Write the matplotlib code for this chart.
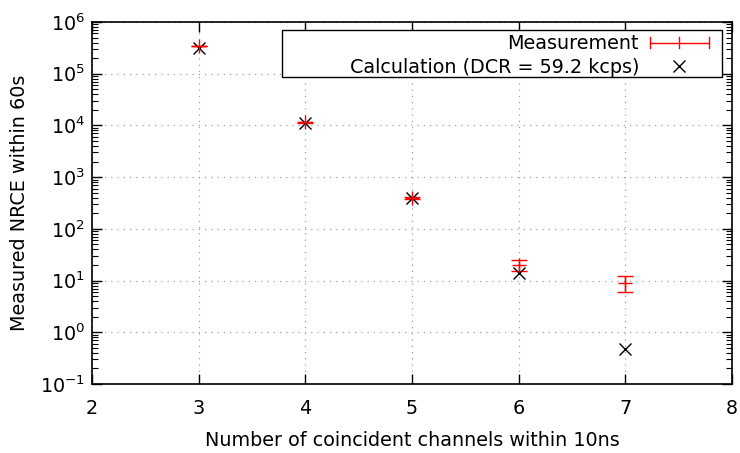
import numpy as np
import matplotlib
matplotlib.use('Agg')
import matplotlib.pyplot as plt
from matplotlib.lines import Line2D
from matplotlib.patches import Rectangle
from matplotlib.legend_handler import HandlerBase
from matplotlib.ticker import LogLocator, NullFormatter

# Data
channels = [3, 4, 5, 6, 7]
measured = [3.5e5, 1.15e4, 400, 20, 9]
measured_err = [np.sqrt(v) for v in measured]
calculated = [3.2e5, 1.1e4, 390, 14, 0.48]

plt.rcParams['font.family'] = 'DejaVu Sans'
plt.rcParams['font.size'] = 13.8


class ErrorKeyHandler(HandlerBase):
    # gnuplot-like errorbar key: horizontal bar with end caps and centre tick
    def create_artists(self, legend, orig_handle, xdescent, ydescent,
                       width, height, fontsize, trans):
        y = height / 2 - ydescent
        x0, x1 = -xdescent, -xdescent + width
        xm = (x0 + x1) / 2
        c = 4
        kw = dict(color='red', lw=1.0, transform=trans)
        return [Line2D([x0, x1], [y, y], **kw),
                Line2D([x0, x0], [y - c, y + c], **kw),
                Line2D([x1, x1], [y - c, y + c], **kw),
                Line2D([xm, xm], [y - c, y + c], **kw)]


fig = plt.figure(figsize=(7.4, 4.53), dpi=100)
ax = fig.add_axes([0.1243, 0.1523, 0.8649, 0.7991])

ax.errorbar(channels, measured, yerr=measured_err, fmt='+', color='red',
            ms=10, mew=1.0, elinewidth=1.0, capsize=6, capthick=1.0)
ax.plot(channels, calculated, 'x', color='black', ms=9, mew=1.0)

ax.set_yscale('log')
ax.set_xlim(2, 8)
ax.set_ylim(0.1, 1e6)
ax.set_yticks([10.0 ** k for k in range(-1, 7)])
ax.yaxis.set_minor_locator(LogLocator(base=10, subs=np.arange(2, 10), numticks=20))
ax.yaxis.set_minor_formatter(NullFormatter())

ax.tick_params(which='both', direction='in', top=True, right=True)
ax.tick_params(which='major', length=7, width=1.0)
ax.tick_params(which='minor', length=4, width=0.8)
ax.tick_params(axis='x', which='major', pad=11)
ax.tick_params(axis='y', which='major', pad=5)
for s in ax.spines.values():
    s.set_linewidth(1.2)

ax.grid(True, which='major', linestyle=(0, (1, 4)), color='#a0a0a0', linewidth=0.9)

ax.set_xlabel('Number of coincident channels within 10ns', labelpad=9)
ax.set_ylabel('Measured NRCE within 60s')
ax.yaxis.set_label_coords(-0.098, 0.5)

# key box (gnuplot style, wider than its contents)
ax.add_patch(Rectangle((0.297, 0.848), 0.687, 0.130, transform=ax.transAxes,
                       facecolor='white', edgecolor='black', lw=1.0, zorder=4))

meas_proxy = Line2D([], [], color='red')
calc_proxy = Line2D([], [], color='black', marker='x', ls='none', ms=9, mew=1.0)
leg = ax.legend([meas_proxy, calc_proxy],
                ['Measurement', 'Calculation (DCR = 59.2 kcps)'],
                handler_map={meas_proxy: ErrorKeyHandler()},
                loc='upper right', bbox_to_anchor=(0.964, 0.966),
                markerfirst=False, frameon=False, handlelength=3.1,
                borderpad=0, labelspacing=0.23, handletextpad=0.55,
                borderaxespad=0)
leg.set_zorder(5)
for t in leg.get_texts():
    t.set_ha('right')
leg._legend_box.align = 'right'

fig.savefig('out.png', dpi=100)
